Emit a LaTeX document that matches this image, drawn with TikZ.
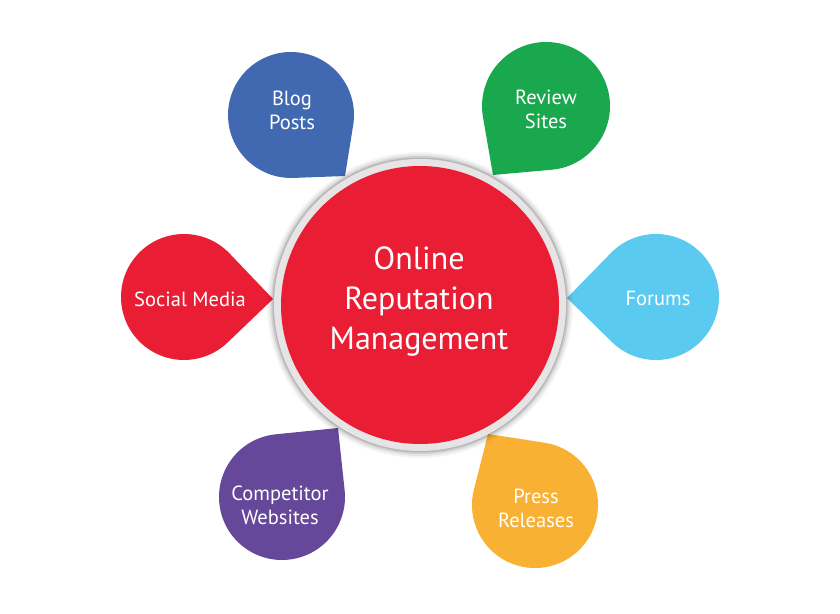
\documentclass[tikz,border=0pt]{standalone}
\usepackage{fontspec}
\setmainfont{PT Sans}
\usetikzlibrary{calc}
\definecolor{blogc}{HTML}{4169B1}
\definecolor{reviewc}{HTML}{19A84E}
\definecolor{socialc}{HTML}{E91E35}
\definecolor{forumc}{HTML}{5BCAF0}
\definecolor{compc}{HTML}{66489B}
\definecolor{pressc}{HTML}{F8B133}
\definecolor{centerc}{HTML}{E91D34}
\definecolor{rimc}{HTML}{E6E4E4}
\newcommand\tdrop[7]{%
  \coordinate (#1c) at (#2,#3);
  \coordinate (#1t) at (#5,#6);
  \fill[#7] let \p1=($(#1t)-(#1c)$), \n1={atan2(\y1,\x1)}, \n2={veclen(\x1,\y1)}, \n3={acos(#4/\n2)} in
    (#1t) -- ($(#1c)+(\n1+\n3:#4pt)$) arc[start angle=\n1+\n3, end angle=\n1-\n3+360, radius=#4pt] -- cycle;}
\tikzset{
  lbl/.style={text=white, align=center, font=\fontsize{20.5}{24}\selectfont},
  mainlbl/.style={text=white, align=center, font=\fontsize{32}{40}\selectfont},
}
\begin{document}
\begin{tikzpicture}[x=1pt,y=1pt]
\useasboundingbox (0,0) rectangle (840,613);
\fill[white] (0,0) rectangle (840,613);
% teardrops
\tdrop{blog}{291}{498}{63}{345}{437}{blogc}
\tdrop{review}{546}{507}{64}{493}{438}{reviewc}
\tdrop{social}{184}{316}{63}{273}{314}{socialc}
\tdrop{forum}{656}{316}{63}{567}{315}{forumc}
\tdrop{comp}{282}{116}{63}{338}{185}{compc}
\tdrop{press}{535}{108}{63}{488}{179}{pressc}
% central circle
\coordinate (cc) at (420,308);
\foreach \r/\o in {153/0.04,151/0.06,149/0.09,147.5/0.12}
  \fill[black, opacity=\o] (cc) circle (\r pt);
\fill[rimc] (cc) circle (146pt);
\node[circle, fill=centerc, minimum size=278pt, inner sep=0pt] (center) at (cc) {};
\node[mainlbl] (centertext) at (419,311.5) {Online\\Reputation\\Management};
% labels
\node[lbl] (blogtext) at (292,503) {Blog\\Posts};
\node[lbl] (reviewtext) at (546,504) {Review\\Sites};
\node[lbl] (socialtext) at (190,314) {Social Media};
\node[lbl] (forumtext) at (658,315) {Forums};
\node[lbl] (comptext) at (280,107.5) {Competitor\\Websites};
\node[lbl] (presstext) at (536,105) {Press\\Releases};
\end{tikzpicture}
\end{document}
